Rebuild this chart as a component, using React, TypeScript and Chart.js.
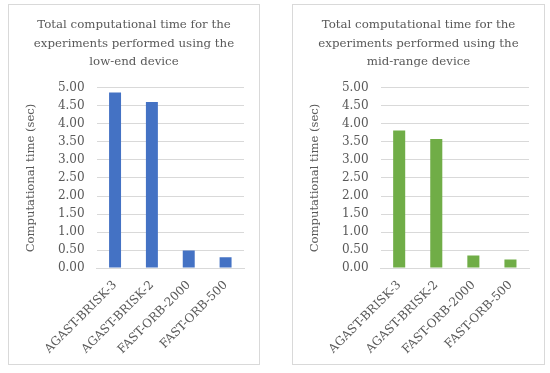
import React, { useEffect, useRef } from "react";
import { Chart, registerables } from "chart.js";

Chart.register(...registerables);

const categories = ["AGAST-BRISK-3", "AGAST-BRISK-2", "FAST-ORB-2000", "FAST-ORB-500"];
const lowEndValues = [4.87, 4.61, 0.49, 0.3];
const midRangeValues = [3.82, 3.58, 0.35, 0.24];
const lowEndTitle = ["Total computational time for the", "experiments performed using the", "low-end device"];
const midRangeTitle = ["Total computational time for the", "experiments performed using the", "mid-range device"];
const yAxisTitle = "Computational time (sec)";

const TEXT = "#595959";
const GRID = "#d9d9d9";
const FONT = "DejaVu Serif";

function BarPanel({ title, values, color, left, width }: { title: string[]; values: number[]; color: string; left: number; width: number }) {
  const ref = useRef<HTMLCanvasElement>(null);
  const canvasWidth = width + 10;
  useEffect(() => {
    if (!ref.current) return;
    const chart = new Chart(ref.current, {
      type: "bar",
      data: {
        labels: categories,
        datasets: [{ data: values, backgroundColor: color, barPercentage: 0.325, categoryPercentage: 1 }],
      },
      options: {
        responsive: false,
        animation: false,
        layout: { padding: { top: 5, left: 27, right: 15, bottom: 5 } },
        plugins: {
          legend: { display: false },
          tooltip: { enabled: false },
          title: {
            display: true,
            text: title,
            color: TEXT,
            font: { family: FONT, size: 11.8, weight: "normal", lineHeight: 1.55 },
            padding: { top: 6, bottom: 17 },
          },
        },
        scales: {
          x: {
            grid: { display: false },
            border: { color: GRID },
            ticks: {
              color: TEXT,
              font: { family: FONT, size: 12 },
              maxRotation: 45,
              minRotation: 45,
              padding: 2,
            },
          },
          y: {
            min: 0,
            max: 5,
            grid: { color: GRID, drawTicks: false },
            border: { display: false },
            ticks: {
              stepSize: 0.5,
              autoSkip: false,
              color: TEXT,
              padding: 12,
              font: { family: FONT, size: 12 },
              callback: (v: any) => Number(v).toFixed(2),
            },
            title: {
              display: true,
              text: yAxisTitle,
              color: TEXT,
              font: { family: FONT, size: 11.6 },
              padding: { top: 0, bottom: 8 },
            },
          },
        },
      },
    });
    return () => chart.destroy();
  }, []);
  return (
    <div style={{ position: "absolute", left, top: 4, width, height: 361, border: "1px solid #d9d9d9", boxSizing: "border-box", background: "#fff", overflow: "hidden" }}>
      <canvas ref={ref} width={canvasWidth} height={359} style={{ display: "block", position: "absolute", left: -12, top: 0 }} />
    </div>
  );
}

export default function App() {
  return (
    <div style={{ position: "absolute", left: 0, top: 0, width: 550, height: 373, background: "#fff" }}>
      <BarPanel title={lowEndTitle} values={lowEndValues} color="#4472c4" left={8} width={252} />
      <BarPanel title={midRangeTitle} values={midRangeValues} color="#70ad47" left={292} width={253} />
    </div>
  );
}
